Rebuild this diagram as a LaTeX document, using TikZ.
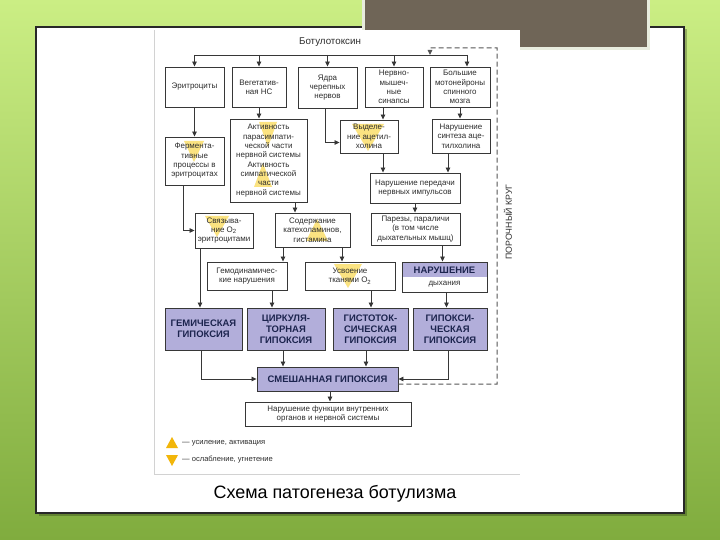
\documentclass[tikz,border=0pt]{standalone}
\usepackage{fontspec}
\setmainfont{Liberation Sans}
\usetikzlibrary{arrows.meta}

\definecolor{greentop}{RGB}{203,238,132}
\definecolor{greenbot}{RGB}{128,172,62}
\definecolor{framec}{RGB}{40,40,40}
\definecolor{brownbox}{RGB}{111,101,87}
\definecolor{brownedge}{RGB}{232,236,222}
\definecolor{boxline}{RGB}{55,55,55}
\definecolor{boxtext}{RGB}{45,45,45}
\definecolor{hypfill}{RGB}{178,174,218}
\definecolor{hyptext}{RGB}{28,36,78}
\definecolor{hlyellow}{RGB}{250,218,88}
\definecolor{legyellow}{RGB}{242,182,10}

\tikzset{
  box/.style={draw=boxline, line width=0.9bp, text=boxtext, align=center, inner sep=1bp,
    font=\fontsize{8}{9.4}\selectfont},
  hypbox/.style={box, fill=hypfill, text=hyptext, font=\fontsize{9.5}{11}\selectfont\bfseries},
  wire/.style={draw=boxline, line width=0.8bp},
  arr/.style={wire, -{Triangle[length=5bp,width=4.5bp]}},
  vicious/.style={draw=boxline!85, line width=1bp, dash pattern=on 5bp off 3bp,
    -{Triangle[length=5bp,width=4.5bp]}},
  hl/.style={fill=hlyellow, opacity=0.75},
  legend/.style={text=boxtext, font=\fontsize{7.6}{9}\selectfont, inner sep=1bp},
}

\begin{document}
\begin{tikzpicture}[x=1bp, y=-1bp]
  \useasboundingbox (0,0) rectangle (720,540);

  % slide
  \shade[top color=greentop, bottom color=greenbot] (0,0) rectangle (720,540);
  \fill[black, opacity=0.25] (38.5,29.5) rectangle (686.5,515.5);
  \filldraw[fill=white, draw=framec, line width=1.5bp] (36,27) rectangle (684,513);
  \filldraw[fill=brownbox, draw=brownedge, line width=3bp] (363.5,-5) rectangle (648.5,48.5);
  \fill[white] (154,30) rectangle (520,474);
  \draw[gray!35, line width=0.8bp] (154,30) -- (154,474) -- (520,474);

  % yellow marks behind the texts
  \fill[hl] (184,141) -- (204,141) -- (194,162) -- cycle;
  \fill[hl] (259,122) -- (277,122) -- (268,147) -- cycle;
  \fill[hl] (263,163) -- (254,187) -- (272,187) -- cycle;
  \fill[hl] (352,124) -- (384,124) -- (368,151) -- cycle;
  \fill[hl] (205,216) -- (229,216) -- (217,237) -- cycle;
  \fill[hl] (317,219) -- (306,241) -- (328,241) -- cycle;
  \fill[hl] (334,264) -- (362,264) -- (348,288) -- cycle;

  \node[text=boxtext, font=\fontsize{9.8}{11}\selectfont] (toxin) at (330,42) {Ботулотоксин};

  % first row
  \node[box, minimum width=59bp, minimum height=40bp] (ery) at (194.5,87) {Эритроциты};
  \node[box, minimum width=54bp, minimum height=40bp] (veg) at (259,87) {Вегетатив-\\ная НС};
  \node[box, minimum width=59bp, minimum height=41bp] (nuc) at (327.5,87.5) {Ядра\\черепных\\нервов};
  \node[box, minimum width=58bp, minimum height=40bp] (nms) at (394,87) {Нервно-\\мышеч-\\ные\\синапсы};
  \node[box, minimum width=60bp, minimum height=40bp] (mot) at (460,87) {Большие\\мотонейроны\\спинного\\мозга};

  % second row
  \node[box, minimum width=59bp, minimum height=48bp] (ferm) at (194.5,161) {Фермента-\\тивные\\процессы в\\эритроцитах};
  \node[box, minimum width=77bp, minimum height=83bp] (act) at (268.5,160.5)
    {Активность\\парасимпати-\\ческой части\\нервной системы\\Активность\\симпатической\\части\\нервной системы};
  \node[box, minimum width=58bp, minimum height=33bp] (ach) at (369,136.5) {Выделе-\\ние ацетил-\\холина};
  \node[box, minimum width=58bp, minimum height=34bp] (syn) at (461,136) {Нарушение\\синтеза аце-\\тилхолина};
  \node[box, minimum width=90bp, minimum height=30bp] (trans) at (415,188) {Нарушение передачи\\нервных импульсов};

  % third row
  \node[box, minimum width=58bp, minimum height=35bp] (bind) at (224,230.5) {Связыва-\\ние O\textsubscript{2}\\эритроцитами};
  \node[box, minimum width=75bp, minimum height=34bp] (cat) at (312.5,230) {Содержание\\катехоламинов,\\гистамина};
  \node[box, minimum width=89bp, minimum height=32bp] (par) at (415.5,229) {Парезы, параличи\\(в том числе\\дыхательных мышц)};

  % fourth row
  \node[box, minimum width=80bp, minimum height=28bp] (hemo) at (247,276) {Гемодинамичес-\\кие нарушения};
  \node[box, minimum width=90bp, minimum height=28bp] (upt) at (350,276) {Усвоение\\тканями O\textsubscript{2}};
  \node[box, minimum width=85bp, minimum height=30bp,
    path picture={\fill[hypfill] (path picture bounding box.north west)
      rectangle ([yshift=-15bp]path picture bounding box.north east);}] (resp) at (444.5,277)
    {{\fontsize{9.5}{11}\selectfont\bfseries\color{hyptext}НАРУШЕНИЕ}\\[2bp]дыхания};

  % hypoxias
  \node[hypbox, minimum width=77bp, minimum height=42bp] (hemic) at (203.5,329) {ГЕМИЧЕСКАЯ\\ГИПОКСИЯ};
  \node[hypbox, minimum width=78bp, minimum height=42bp] (circ) at (286,329) {ЦИРКУЛЯ-\\ТОРНАЯ\\ГИПОКСИЯ};
  \node[hypbox, minimum width=75bp, minimum height=42bp] (hist) at (370.5,329) {ГИСТОТОК-\\СИЧЕСКАЯ\\ГИПОКСИЯ};
  \node[hypbox, minimum width=74bp, minimum height=42bp] (hypox) at (450,329) {ГИПОКСИ-\\ЧЕСКАЯ\\ГИПОКСИЯ};
  \node[hypbox, minimum width=141bp, minimum height=24bp] (mixed) at (327.5,379) {СМЕШАННАЯ ГИПОКСИЯ};
  \node[box, minimum width=166bp, minimum height=24bp] (organs) at (328,414) {Нарушение функции внутренних\\органов и нервной системы};

  % toxin bus
  \coordinate (busW) at (194.5,55);
  \coordinate (busE) at (467,55);
  \coordinate (busJ) at (430,55);
  \draw[wire] (busW) -- (busE);
  \draw[arr] (busW) -- (ery);
  \draw[arr] (busW -| veg) -- (veg);
  \draw[arr] (busW -| nuc) -- (nuc);
  \draw[arr] (busW -| nms) -- (nms);
  \draw[arr] (busE) -- (busE |- mot.north);

  % arrows
  \draw[arr] (ery) -- (ferm);
  \draw[arr] (veg.south) -- (veg.south |- act.north);
  \draw[arr] ([xshift=-2.5bp]nuc.south) |- ([yshift=-6bp]ach.west);
  \draw[arr] ([xshift=-11bp]nms.south) -- ([xshift=-11bp]nms.south |- ach.north);
  \draw[arr] (mot.south) -- (mot.south |- syn.north);
  \draw[arr] ([xshift=-11.5bp]ferm.south) |- (bind.west);
  \draw[arr] ([xshift=26.5bp]act.south) -- ([xshift=26.5bp]act.south |- cat.north);
  \draw[arr] ([xshift=14bp]ach.south) -- ([xshift=14bp]ach.south |- trans.north);
  \draw[arr] ([xshift=-13bp]syn.south) -- ([xshift=-13bp]syn.south |- trans.north);
  \draw[arr] (trans.south) -- (trans.south |- par.north);
  \draw[arr] ([xshift=-24bp]bind.south) -- ([xshift=-24bp]bind.south |- hemic.north);
  \draw[arr] ([xshift=-29.5bp]cat.south) -- ([xshift=-29.5bp]cat.south |- hemo.north);
  \draw[arr] ([xshift=29.5bp]cat.south) -- ([xshift=29.5bp]cat.south |- upt.north);
  \draw[arr] ([xshift=25bp]hemo.south) -- ([xshift=25bp]hemo.south |- circ.north);
  \draw[arr] ([xshift=21bp]upt.south) -- ([xshift=21bp]upt.south |- hist.north);
  \draw[arr] ([xshift=-2bp]par.south -| resp) -- ([xshift=-2bp]resp.north);
  \draw[arr] ([xshift=2bp]resp.south) -- ([xshift=2bp]resp.south |- hypox.north);
  \draw[arr] ([xshift=-2.5bp]hemic.south) |- (mixed.west);
  \draw[arr] ([xshift=-3bp]circ.south) -- ([xshift=-3bp]circ.south |- mixed.north);
  \draw[arr] ([xshift=-4.5bp]hist.south) -- ([xshift=-4.5bp]hist.south |- mixed.north);
  \draw[arr] ([xshift=-2bp]hypox.south) |- (mixed.east);
  \draw[arr] ([xshift=2.5bp]mixed.south) -- ([xshift=2.5bp]mixed.south |- organs.north);

  % vicious circle
  \coordinate (vcB) at (497,384);
  \coordinate (vcT) at (497,48);
  \draw[vicious] ([yshift=-5bp]mixed.east) -- (vcB) -- (vcT) -| (busJ);
  \node[rotate=90, text=boxtext, font=\fontsize{8.8}{10}\selectfont] (vclabel) at (508,222) {ПОРОЧНЫЙ КРУГ};

  % legend
  \fill[legyellow] (166,448) -- (178,448) -- (172,437) -- cycle;
  \node[legend, anchor=west] (legup) at (181,443) {— усиление, активация};
  \fill[legyellow] (166,455) -- (178,455) -- (172,466) -- cycle;
  \node[legend, anchor=west] (legdown) at (181,460) {— ослабление, угнетение};

  \node[text=black, font=\fontsize{18}{20}\selectfont] (caption) at (335,494) {Схема патогенеза ботулизма};
\end{tikzpicture}
\end{document}
